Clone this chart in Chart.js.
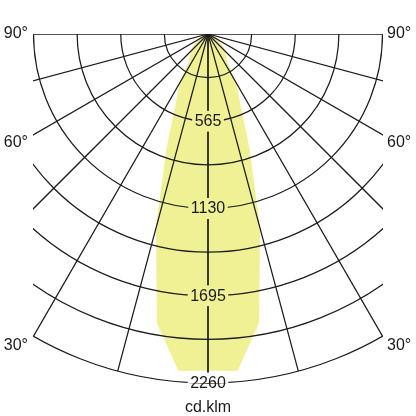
<!DOCTYPE html>
<html>
<head>
<meta charset="utf-8">
<script src="https://cdn.jsdelivr.net/npm/chart.js@4/dist/chart.umd.min.js"></script>
<style>
  html, body { margin: 0; padding: 0; background: #fff; }
  #wrap { width: 416px; height: 416px; }
</style>
</head>
<body>
<div id="wrap"><canvas id="ldc"></canvas></div>
<script>
// light distribution, angle from nadir (deg) -> intensity (cd/klm)
var angles    = [0,    5,    10,   15,   20,  25,  27.5, 30,  35,  40,  45,  50,  60, 70, 80, 90];
var intensity = [2180, 2190, 1900, 1300, 780, 490, 420,  365, 212, 180, 155, 130, 80, 40, 15, 0];
var splitAngle = 15; // widest point of the curve

// axis stuff
var ringTicks   = [565, 1130, 1695, 2260];
var rayAngles   = [0, 15, 30, 45, 60, 75, 90];
var angleLabels = ['90°', '60°', '30°'];
var angleLabelAt = [90, 60, 30];
var unitLabel = 'cd.klm';

var maxI = ringTicks[ringTicks.length - 1];

function toXY(i, side) {
  var a = angles[i] * Math.PI / 180;
  return {x: side * intensity[i] * Math.sin(a), y: -intensity[i] * Math.cos(a)};
}

// split the closed curve into an upper and a lower chain, both left -> right
var upper = [], lower = [];
var k = angles.indexOf(splitAngle);
for (var i = k; i < angles.length; i++) upper.push(toXY(i, -1));
for (var i2 = angles.length - 2; i2 >= k; i2--) upper.push(toXY(i2, 1));
for (var j = k; j >= 0; j--) lower.push(toXY(j, -1));
for (var j2 = 1; j2 <= k; j2++) lower.push(toXY(j2, 1));

var FONT = '16px "Liberation Sans", Arial, sans-serif';

var polarGrid = {
  id: 'polarGrid',
  afterDatasetsDraw: function(chart) {
    var c = chart.ctx, area = chart.chartArea;
    var xs = chart.scales.x, ys = chart.scales.y;
    var cx = xs.getPixelForValue(0), cy = ys.getPixelForValue(0);
    var pr = function(v) { return ys.getPixelForValue(-v) - cy; };

    c.save();
    c.font = FONT;
    // clip: chart area minus label boxes
    c.beginPath();
    c.rect(area.left, area.top, area.right - area.left, area.bottom - area.top);
    ringTicks.forEach(function(t) {
      var w = c.measureText(String(t)).width + 5;
      c.rect(cx - w / 2, cy + pr(t) - 10.5, w, 21);
    });
    c.clip('evenodd');

    c.strokeStyle = '#1c1c1c';
    c.lineWidth = 1.25;
    // rings every half tick
    var step = ringTicks[0] / 2;
    for (var r = step; r <= maxI + 1; r += step) {
      c.beginPath();
      c.arc(cx, cy, pr(r), 0, Math.PI);
      c.stroke();
    }
    // rays
    var R = pr(maxI);
    rayAngles.forEach(function(d) {
      var a = d * Math.PI / 180;
      [-1, 1].forEach(function(s) {
        c.beginPath();
        c.moveTo(cx, cy);
        c.lineTo(cx + s * R * Math.sin(a), cy + R * Math.cos(a));
        c.stroke();
      });
    });
    c.restore();

    // texts
    c.save();
    c.font = FONT;
    c.fillStyle = '#1a1a1a';
    c.textBaseline = 'middle';
    c.textAlign = 'center';
    ringTicks.forEach(function(t) {
      c.fillText(String(t), cx, cy + pr(t) + 0.5);
    });
    angleLabels.forEach(function(lbl, n) {
      var a = angleLabelAt[n] * Math.PI / 180;
      var half = (area.right - area.left) / 2;
      var yy = cy + (a > 1.5 ? 0 : half / Math.tan(a) + 8);
      c.textAlign = 'right';
      c.fillText(lbl, area.left - 5, yy);
      c.textAlign = 'left';
      c.fillText(lbl, area.right + 4, yy);
    });
    c.textAlign = 'center';
    c.fillText(unitLabel, cx, area.bottom + 25);
    c.restore();
  }
};

var fillCol = 'rgb(239,241,148)';

new Chart(document.getElementById('ldc'), {
  type: 'scatter',
  data: {
    datasets: [{
      data: upper,
      showLine: true,
      tension: 0,
      pointRadius: 0,
      borderWidth: 0,
      borderColor: fillCol,
      fill: false
    }, {
      data: lower,
      showLine: true,
      tension: 0,
      pointRadius: 0,
      borderWidth: 0,
      borderColor: fillCol,
      backgroundColor: fillCol,
      fill: '-1'
    }]
  },
  options: {
    responsive: true,
    maintainAspectRatio: false,
    animation: false,
    layout: { padding: { left: 33, right: 33, top: 34, bottom: 33 } },
    scales: {
      x: { type: 'linear', display: false, min: -maxI / 2, max: maxI / 2 },
      y: { type: 'linear', display: false, min: -maxI, max: 0 }
    },
    plugins: { legend: { display: false }, tooltip: { enabled: false } }
  },
  plugins: [polarGrid]
});
</script>
</body>
</html>
